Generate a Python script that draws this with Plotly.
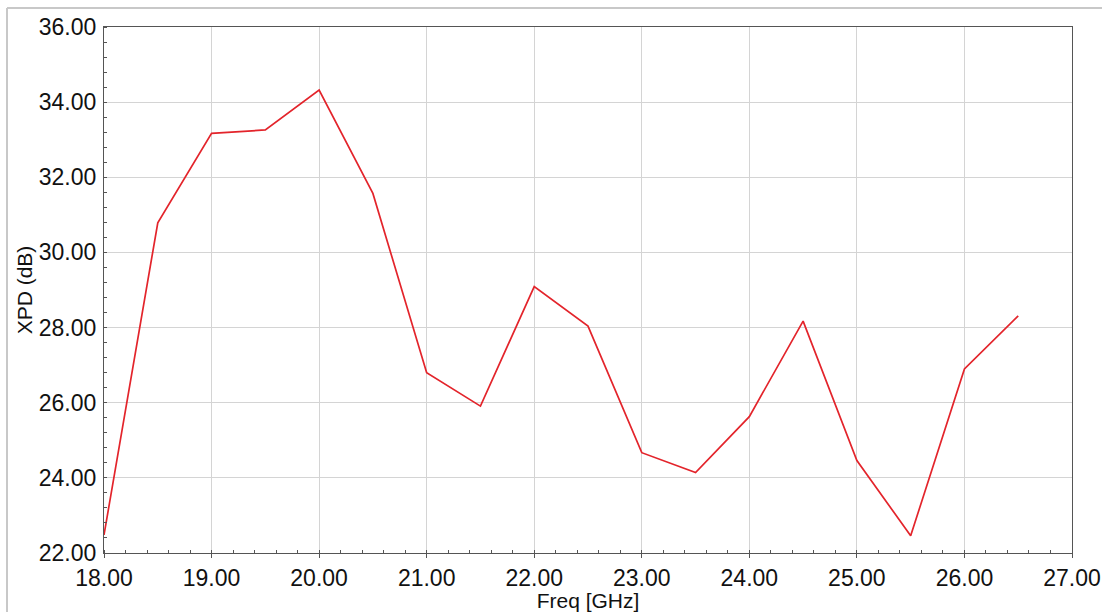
import plotly.graph_objects as go

freq_ghz = [18.0, 18.5, 19.0, 19.5, 20.0, 20.5, 21.0, 21.5, 22.0, 22.5,
            23.0, 23.5, 24.0, 24.5, 25.0, 25.5, 26.0, 26.5]
xpd_db = [22.48, 30.79, 33.17, 33.26, 34.32, 31.57, 26.80, 25.91, 29.09, 28.04,
          24.67, 24.14, 25.63, 28.17, 24.46, 22.46, 26.90, 28.31]

x_ticks = [18, 19, 20, 21, 22, 23, 24, 25, 26, 27]
y_ticks = [22, 24, 26, 28, 30, 32, 34, 36]

fig = go.Figure()
fig.add_trace(go.Scatter(
    x=freq_ghz, y=xpd_db, mode="lines",
    line=dict(color="#e3242b", width=1.7),
    showlegend=False, hoverinfo="x+y",
))

font = "Liberation Sans, Arial, sans-serif"
axis_common = dict(
    showline=True, linecolor="#555555", linewidth=1.2, mirror=True,
    showgrid=True, gridcolor="#d4d4d4", gridwidth=1,
    zeroline=False,
    tickformat=".2f",
    tickfont=dict(family=font, size=23, color="#111111"),
)

fig.update_xaxes(
    **axis_common,
    range=[18, 27], tickvals=x_ticks,
    ticks="outside", ticklen=4, tickcolor="#555555", tickwidth=1,
    minor=dict(dtick=0.2, ticks="inside", ticklen=3, tickcolor="#555555", showgrid=False),
    title=dict(text="Freq [GHz]", font=dict(family=font, size=21, color="#111111"), standoff=0),
    automargin=False,
)
fig.update_yaxes(
    **axis_common,
    range=[22, 36], tickvals=y_ticks,
    ticks="", ticklabelstandoff=2,
    minor=dict(dtick=0.4, ticks="inside", ticklen=3, tickcolor="#555555", showgrid=False),
    title=dict(text="XPD (dB)", font=dict(family=font, size=21, color="#111111"), standoff=0),
    automargin=False,
)

# outer light frame of the picture (page pixels x=7, y=8)
frame_x = (7 - 104) / 968
frame_y = 1 + (27 - 8) / 526
fig.add_shape(type="line", xref="paper", yref="paper",
              x0=frame_x, x1=1.05, y0=frame_y, y1=frame_y,
              line=dict(color="#c8c8c8", width=2))
fig.add_shape(type="line", xref="paper", yref="paper",
              x0=frame_x, x1=frame_x, y0=frame_y, y1=-0.12,
              line=dict(color="#c8c8c8", width=2))

fig.update_layout(
    width=1102, height=612, autosize=False,
    margin=dict(l=104, r=30, t=27, b=59),
    paper_bgcolor="white", plot_bgcolor="white",
    font=dict(family=font, color="#111111"),
)

fig.write_html("out.html", config={"displayModeBar": False},
               post_script="document.body.style.margin='0';document.body.style.overflow='hidden';")
